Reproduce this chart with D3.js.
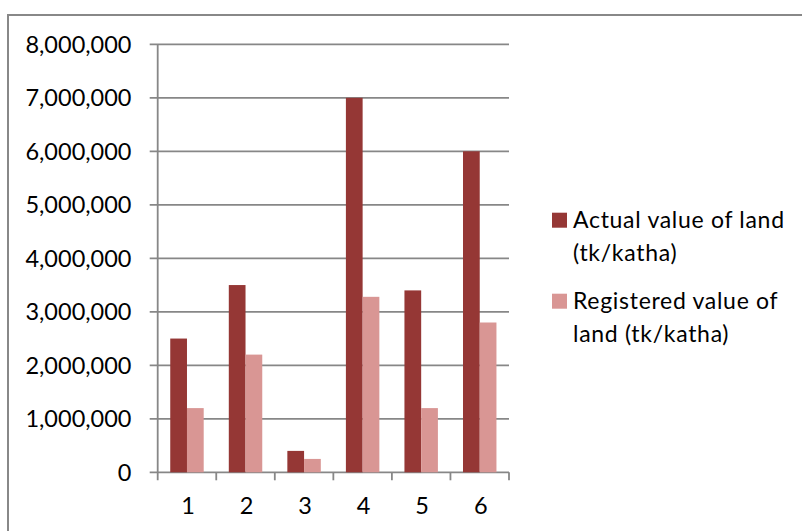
<!DOCTYPE html>
<html><head><meta charset="utf-8">
<script src="https://cdn.jsdelivr.net/npm/d3@7"></script>
<style>html,body{margin:0;padding:0;background:#fff;}svg{display:block;}</style>
</head><body>
<svg id="c" width="802" height="531"></svg>
<script>
const categories = ["1","2","3","4","5","6"];
const actualValues = [2500000, 3500000, 400000, 7000000, 3400000, 6000000];
const registeredValues = [1200000, 2200000, 250000, 3280000, 1200000, 2800000];
const seriesNames = ["Actual value of land (tk/katha)", "Registered value of land (tk/katha)"];
const legendLines = [["Actual value of land", "(tk/katha)"], ["Registered value of", "land (tk/katha)"]];
const yTicks = [0,1000000,2000000,3000000,4000000,5000000,6000000,7000000,8000000];
const colors = ["#953735", "#D99694"];

const svg = d3.select("#c");
const font = "Lato, 'Open Sans', sans-serif";
const gridColor = "#878787";

// outer frame
svg.append("rect").attr("x",8).attr("y",15).attr("width",820).attr("height",560)
  .attr("fill","none").attr("stroke","#888").attr("stroke-width",2);

const L = 157.7, R = 509, T = 44.3, B = 472.3;
const y = d3.scaleLinear().domain([0, 8000000]).range([B, T]);
const x = d3.scaleBand().domain(categories).range([L, R]).paddingInner(0).paddingOuter(0);
const bw = x.bandwidth() / 3.5;
const x1 = d3.scaleBand().domain([0,1]).range([0.75*bw, 2.75*bw]).padding(0);

// gridlines
svg.append("g").selectAll("line").data(yTicks).join("line")
  .attr("x1", L - 8).attr("x2", R).attr("y1", d => y(d)).attr("y2", d => y(d))
  .attr("stroke", gridColor).attr("stroke-width", 1.8);

// bars
const data = categories.map((c,i) => ({c, v:[actualValues[i], registeredValues[i]]}));
const g = svg.append("g");
data.forEach(d => {
  d.v.forEach((v,j) => {
    g.append("rect").attr("x", x(d.c) + x1(j)).attr("width", x1.bandwidth())
      .attr("y", y(v)).attr("height", y(0) - y(v)).attr("fill", colors[j]);
  });
});

// y axis line
svg.append("line").attr("x1", L).attr("x2", L).attr("y1", T).attr("y2", B + 8)
  .attr("stroke", gridColor).attr("stroke-width", 1.8);
// x ticks at boundaries
const bounds = categories.map(c => x(c)).concat([R]);
svg.append("g").selectAll("line").data(bounds.slice(1)).join("line")
  .attr("x1", d => d).attr("x2", d => d).attr("y1", B).attr("y2", B + 8)
  .attr("stroke", gridColor).attr("stroke-width", 1.8);

// y labels
const fmt = d3.format(",");
svg.append("g").selectAll("text").data(yTicks).join("text")
  .attr("x", 131.5).attr("y", d => y(d)).attr("dy", "0.35em").attr("text-anchor","end")
  .attr("font-family", font).attr("font-size", 23.5).attr("fill","#000").text(d => fmt(d));

// x labels
svg.append("g").selectAll("text").data(categories).join("text")
  .attr("x", d => x(d) + x.bandwidth()/2 + 1).attr("y", 514)
  .attr("text-anchor","middle").attr("font-family", font).attr("font-size", 23.5)
  .attr("fill","#000").text(d => d);

// legend
const legY = [228, 309];
legendLines.forEach((lines, i) => {
  svg.append("rect").attr("x", 552).attr("y", legY[i] - 15.3).attr("width", 15).attr("height", 15)
    .attr("fill", colors[i]);
  lines.forEach((t, k) => {
    svg.append("text").attr("x", 573).attr("y", legY[i] + k*32.5)
      .attr("font-family", font).attr("font-size", 23).attr("letter-spacing", 0.7)
      .attr("fill","#000").text(t);
  });
});
</script>
</body></html>
